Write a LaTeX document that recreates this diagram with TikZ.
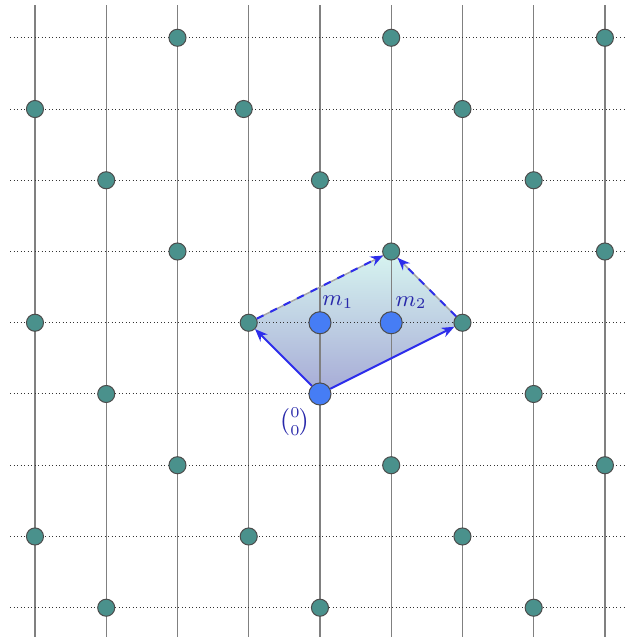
\documentclass[tikz,border=0pt]{standalone}
\usepackage{amsmath}
\usetikzlibrary{arrows.meta}
\definecolor{tealdot}{RGB}{74,145,140}
\definecolor{bluedot}{RGB}{70,125,245}
\definecolor{arrblue}{RGB}{45,45,235}
\definecolor{lblblue}{RGB}{40,40,170}
\definecolor{shtop}{RGB}{215,245,240}
\definecolor{shbot}{RGB}{166,170,214}
\begin{document}
\begin{tikzpicture}[x=1cm,y=1cm,
  tdot/.style={circle,fill=tealdot,draw=black!70,line width=0.4pt,inner sep=0pt,minimum size=0.24cm},
  bdot/.style={circle,fill=bluedot,draw=black!70,line width=0.4pt,inner sep=0pt,minimum size=0.31cm},
  vline/.style={gray,line width=0.5pt},
  hline/.style={black!80,densely dotted,line width=0.4pt},
  vec/.style={arrblue,line width=0.8pt,-{Stealth[length=5pt,width=4pt]}},
  dvec/.style={arrblue,line width=0.8pt,dashed,-{Stealth[length=5pt,width=4pt]}},
  edge/.style={gray!70,line width=0.6pt},
  lbl/.style={text=lblblue,font=\small,inner sep=0pt}]
\useasboundingbox (-4.491,-3.411) rectangle (4.295,5.530);
% shaded cell
\shade[top color=shtop,bottom color=shbot] (0,0) -- (2,1) -- (1,2) -- (-1,1) -- cycle;
% grid
\foreach \x in {-4,...,4} \draw[vline] (\x,-3.42) -- (\x,5.46);
\foreach \y in {-3,...,5} \draw[hline] (-4.35,\y) -- (4.28,\y);
% lattice points
\foreach \x/\y in {-2/5,1/5,4/5,
                   -4/4,2/4,
                   -3/3,0/3,3/3,
                   -2/2,1/2,4/2,
                   -4/1,-1/1,2/1,
                   -3/0,3/0,
                   -2/-1,1/-1,4/-1,
                   -4/-2,-1/-2,2/-2,
                   -3/-3,0/-3,3/-3}
  \node[tdot] (t\x y\y) at (\x,\y) {};
\node[tdot] (t-1y4) at (-1.07,4) {};
% special points
\node[bdot] (o) at (0,0) {};
\node[bdot] (m1) at (0,1) {};
\node[bdot] (m2) at (1,1) {};
% basis vectors
\draw[edge] (t-1y1) -- (t1y2) -- (t2y1);
\draw[dvec] (t-1y1) -- (t1y2);
\draw[dvec] (t2y1) -- (t1y2);
\draw[vec] (o) -- (t-1y1);
\draw[vec] (o) -- (t2y1);
% labels
\node[lbl] (lm1) at (0.25,1.29) {$m_1$};
\node[lbl] (lm2) at (1.28,1.28) {$m_2$};
\node[lbl] (lo) at (-0.35,-0.39) {$\binom{0}{0}$};
\end{tikzpicture}
\end{document}
